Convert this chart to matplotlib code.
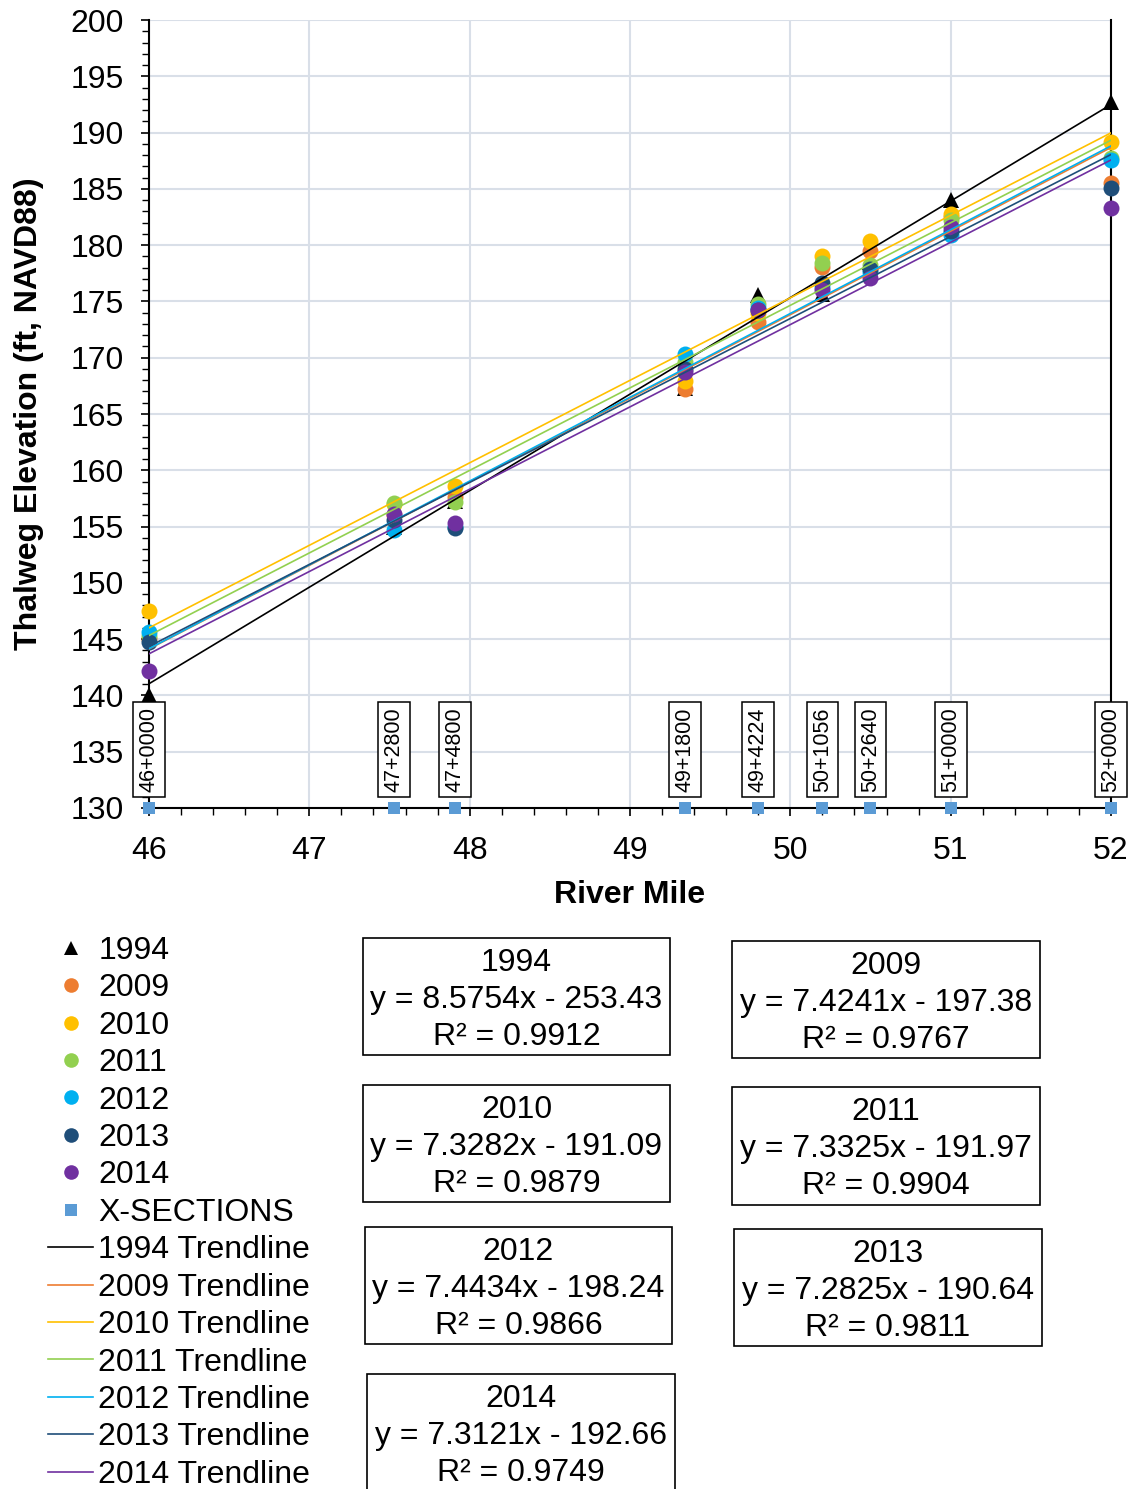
import matplotlib
matplotlib.use('Agg')
import matplotlib.pyplot as plt
from matplotlib.lines import Line2D
from matplotlib.patches import Rectangle
import numpy as np

plt.rcParams['font.family'] = ['Liberation Sans', 'DejaVu Sans']

# ---------------- data ----------------
river_mile = [46.0, 47.5303, 47.9091, 49.3409, 49.8, 50.2, 50.5, 51.0, 52.0]
section_labels = ['46+0000', '47+2800', '47+4800', '49+1800', '49+4224',
                  '50+1056', '50+2640', '51+0000', '52+0000']
section_elev = [130, 130, 130, 130, 130, 130, 130, 130, 130]

years = ['1994', '2009', '2010', '2011', '2012', '2013', '2014']
elev_1994 = [140.0, 155.0, 157.3, 167.3, 175.6, 175.7, 178.5, 184.0, 192.7]
elev_2009 = [145.0, 156.0, 157.6, 167.2, 173.2, 178.1, 179.5, 182.5, 185.5]
elev_2010 = [147.5, 157.0, 158.6, 167.9, 174.0, 179.0, 180.4, 182.8, 189.2]
elev_2011 = [145.3, 157.1, 157.2, 169.65, 174.8, 178.4, 178.2, 182.2, 187.7]
elev_2012 = [145.66, 154.7, 155.0, 170.33, 174.4, 176.3, 177.6, 180.9, 187.6]
elev_2013 = [144.77, 155.6, 154.85, 169.0, 174.2, 176.6, 177.9, 181.3, 185.1]
elev_2014 = [142.2, 156.1, 155.35, 168.76, 174.2, 176.0, 177.05, 181.6, 183.3]

slopes = [8.5754, 7.4241, 7.3282, 7.3325, 7.4434, 7.2825, 7.3121]
intercepts = [-253.43, -197.38, -191.09, -191.97, -198.24, -190.64, -192.66]
r_squared = [0.9912, 0.9767, 0.9879, 0.9904, 0.9866, 0.9811, 0.9749]

x_ticks = [46, 47, 48, 49, 50, 51, 52]
y_ticks = [130, 135, 140, 145, 150, 155, 160, 165, 170, 175, 180, 185, 190, 195, 200]

# ---------------- style ----------------
colors = ['#000000', '#ED7D31', '#FFC000', '#92D050', '#00B0F0', '#1F4E79', '#7030A0']
markers = ['^', 'o', 'o', 'o', 'o', 'o', 'o']
xsec_color = '#5B9BD5'
series = [elev_1994, elev_2009, elev_2010, elev_2011, elev_2012, elev_2013, elev_2014]

W, H = 1133, 1489
fig = plt.figure(figsize=(W / 100, H / 100), dpi=100)


def fx(px):
    return px / W


def fy(py):
    return 1 - py / H


ax = fig.add_axes([fx(149), fy(808), fx(1111) - fx(149), fy(20) - fy(808)])
ax.set_xlim(46, 52)
ax.set_ylim(130, 200)
ax.set_xticks(x_ticks)
ax.set_yticks(y_ticks)
ax.set_xticks(np.arange(46, 52.01, 0.2), minor=True)
ax.set_yticks(np.arange(130, 200.01, 1), minor=True)
ax.tick_params(axis='both', which='major', labelsize=23, length=6, width=1.2,
               direction='out', color='black')
ax.tick_params(axis='both', which='minor', length=5, width=1.0, direction='out')
ax.tick_params(axis='x', which='major', pad=14)
ax.tick_params(axis='y', which='major', pad=12)
ax.grid(True, which='major', color='#D9DFE8', lw=1.5, zorder=0)
ax.set_axisbelow(True)
for s in ['left', 'bottom', 'right', 'top']:
    ax.spines[s].set_color('black')
    ax.spines[s].set_linewidth(1.5)
ax.spines['top'].set_visible(False)

ax.set_xlabel('River Mile', fontsize=23, fontweight='bold', labelpad=10)
ax.set_ylabel('Thalweg Elevation (ft, NAVD88)', fontsize=23, fontweight='bold', labelpad=19)

# scatter points
for i, (yr, vals) in enumerate(zip(years, series)):
    ms = 11.5 if markers[i] == 'o' else 11
    ax.plot(river_mile, vals, linestyle='none', marker=markers[i], color=colors[i],
            markersize=ms, markeredgewidth=0, zorder=3 + i * 0.1, clip_on=False)

ax.plot(river_mile, section_elev, linestyle='none', marker='s', color=xsec_color,
        markersize=9, markeredgewidth=0, zorder=4, clip_on=False)

# trendlines
xr = np.array([min(river_mile), max(river_mile)])
for i in range(len(years)):
    ax.plot(xr, slopes[i] * xr + intercepts[i], color=colors[i], lw=1.2, zorder=5)

# x-section labels
for xv, lab in zip(river_mile, section_labels):
    ax.text(xv, 135.2, lab, rotation=90, ha='center', va='center', fontsize=15.5,
            zorder=6, bbox=dict(boxstyle='square,pad=0.25', fc='white', ec='black', lw=1.1))

# legend
handles = []
labels = []
for i, yr in enumerate(years):
    handles.append(Line2D([], [], linestyle='none', marker=markers[i], color=colors[i],
                          markersize=10.5, markeredgewidth=0))
    labels.append(yr)
handles.append(Line2D([], [], linestyle='none', marker='s', color=xsec_color,
                      markersize=9, markeredgewidth=0))
labels.append('X-SECTIONS')
for i, yr in enumerate(years):
    handles.append(Line2D([], [], color=colors[i], lw=1.2))
    labels.append(yr + ' Trendline')

fig.legend(handles, labels, loc='upper left', bbox_to_anchor=(fx(48), fy(936)),
           fontsize=23, frameon=False, borderpad=0, borderaxespad=0,
           handlelength=1.41, handletextpad=0.16, labelspacing=0.232)

# equation boxes
boxes = [(363, 938, 670, 1055), (732, 941, 1040, 1058), (363, 1085, 670, 1202),
         (732, 1087, 1040, 1205), (365, 1227, 672, 1344), (734, 1229, 1042, 1346),
         (367, 1374, 675, 1491)]
for i, (x0, y0, x1, y1) in enumerate(boxes):
    fig.add_artist(Rectangle((fx(x0), fy(y1)), fx(x1) - fx(x0), fy(y0) - fy(y1),
                             transform=fig.transFigure, fc='white', ec='black', lw=1.2))
    cx = fx((x0 + x1) / 2)
    eq = f"y = {slopes[i]:.4f}x - {abs(intercepts[i]):.2f}"
    lines = [years[i], eq, f"R\u00b2 = {r_squared[i]:.4f}"]
    for k, t in enumerate(lines):
        fig.text(cx, fy(y0 + 25 + 37 * k), t, ha='center', va='center', fontsize=23)

fig.savefig('out.png', dpi=100)
